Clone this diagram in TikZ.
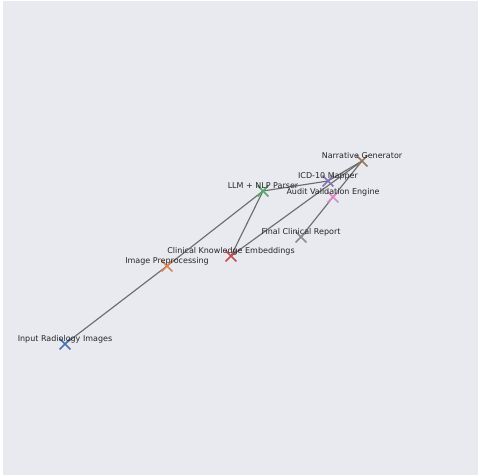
\documentclass[tikz,border=0pt]{standalone}
\usepackage{fontspec}
\setmainfont{DejaVu Sans}
\usetikzlibrary{shapes.misc}
\definecolor{bgplot}{HTML}{E8EAF0}
\definecolor{edgegray}{HTML}{6C6C6C}
\definecolor{cblue}{HTML}{4C72B0}
\definecolor{corange}{HTML}{DD8452}
\definecolor{cgreen}{HTML}{55A868}
\definecolor{cred}{HTML}{C44E52}
\definecolor{cpurple}{HTML}{8172B3}
\definecolor{cbrown}{HTML}{937860}
\definecolor{cpink}{HTML}{DA8BC3}
\definecolor{cgray}{HTML}{8C8C8C}
\tikzset{
  xmark/.style={cross out, draw, line width=1.1pt, minimum size=7pt, inner sep=0pt},
  lbl/.style={anchor=base, inner sep=0pt, yshift=2.2pt, font=\fontsize{6}{7}\selectfont, text=black!85},
  link/.style={edgegray, line width=0.85pt}
}
\begin{document}
\begin{tikzpicture}[x=0.75pt,y=-0.75pt]

\useasboundingbox (0,0) rectangle (480,475);
\fill[white] (0,0) rectangle (480,475);
\fill[bgplot] (3,1) rectangle (478,475);

% positions
\coordinate (inp) at (65,344);
\coordinate (pre) at (167,266);
\coordinate (cke) at (231,256);
\coordinate (llm) at (263,191);
\coordinate (icd) at (328,181);
\coordinate (nar) at (362,161);
\coordinate (aud) at (333,197);
\coordinate (fin) at (301,237);

% links
\draw[link] (inp) -- (pre);
\draw[link] (pre) -- (llm);
\draw[link] (cke) -- (llm);
\draw[link] (llm) -- (icd);
\draw[link] (icd) -- (nar);
\draw[link] (cke) -- (nar);
\draw[link] (nar) -- (aud);
\draw[link] (aud) -- (fin);

% markers
\node[xmark, draw=cblue] (inpm) at (inp) {};
\node[xmark, draw=corange] (prem) at (pre) {};
\node[xmark, draw=cred] (ckem) at (cke) {};
\node[xmark, draw=cgreen] (llmm) at (llm) {};
\node[xmark, draw=cpurple] (icdm) at (icd) {};
\node[xmark, draw=cbrown] (narm) at (nar) {};
\node[xmark, draw=cpink] (audm) at (aud) {};
\node[xmark, draw=cgray] (finm) at (fin) {};

% labels
\node[lbl] (inpl) at (inp) {Input Radiology Images};
\node[lbl] (prel) at (pre) {Image Preprocessing};
\node[lbl] (ckel) at (cke) {Clinical Knowledge Embeddings};
\node[lbl] (llml) at (llm) {LLM + NLP Parser};
\node[lbl] (icdl) at (icd) {ICD-10 Mapper};
\node[lbl] (narl) at (nar) {Narrative Generator};
\node[lbl] (audl) at (aud) {Audit Validation Engine};
\node[lbl] (finl) at (fin) {Final Clinical Report};

\end{tikzpicture}
\end{document}
